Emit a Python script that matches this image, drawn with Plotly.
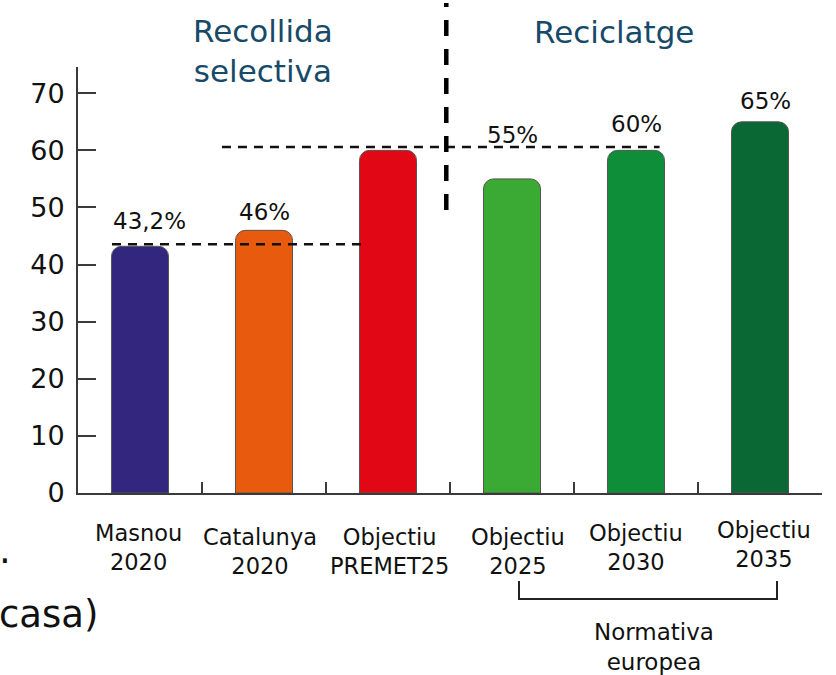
import plotly.graph_objects as go

# ---- data ----
categories = ["Masnou 2020", "Catalunya 2020", "Objectiu PREMET25",
              "Objectiu 2025", "Objectiu 2030", "Objectiu 2035"]
cat_labels = ["Masnou<br>2020", "Catalunya<br>2020", "Objectiu<br>PREMET25",
              "Objectiu<br>2025", "Objectiu<br>2030", "Objectiu<br>2035"]
values = [43.2, 46, 60, 55, 60, 65]
value_labels = ["43,2%", "46%", "", "55%", "60%", "65%"]
bar_colors = ["#32267e", "#e85a0e", "#e20714", "#3aaa35", "#0e8e38", "#0a6834"]
y_ticks = [0, 10, 20, 30, 40, 50, 60, 70]
ref_line_masnou = 43.55
ref_line_premet = 60.6
section_titles = ["Recollida<br>selectiva", "Reciclatge"]
bracket_title = "Normativa<br>europea"

W, H = 836, 675
L, R, T, B = 78, 14, 67, 182
PW, PH = W - L - R, H - T - B


def px(x):
    return (x - L) / PW


def py(y):
    return (H - B - y) / PH


FONT = "DejaVu Sans, Verdana, sans-serif"
AX = "#3a3a3a"

fig = go.Figure()
fig.add_trace(go.Bar(
    x=categories, y=values, width=0.46,
    marker=dict(color=bar_colors, line=dict(color="#555555", width=1),
                cornerradius=10),
    hoverinfo="skip",
))

ann = []
# value labels above bars
lab_yshift = [25, 18, 0, 44, 26, 21]
lab_xshift = [9, 0, 0, 0, 0, 5]
for c, v, t, ys, xs in zip(categories, values, value_labels, lab_yshift, lab_xshift):
    if t:
        ann.append(dict(x=c, y=v, xref="x", yref="y", text=t, showarrow=False,
                        yshift=ys, xshift=xs, yanchor="middle",
                        font=dict(size=23, color="#111111", family=FONT)))

# category labels
cat_centers_y = [547, 551, 551, 551, 547, 544]
cat_xshift = [-1.5, -4, 1, 5.5, 0, 4]
for c, t, yc, xs in zip(categories, cat_labels, cat_centers_y, cat_xshift):
    ann.append(dict(x=c, y=py(yc), xref="x", yref="paper", text=t, showarrow=False,
                    xshift=xs, yanchor="middle", xanchor="center",
                    font=dict(size=22.5, color="#111111", family=FONT)))

# section titles
ann.append(dict(x=px(263), y=py(51), xref="paper", yref="paper", text=section_titles[0],
                showarrow=False, yanchor="middle", xanchor="center",
                font=dict(size=31, color="#174a69", family=FONT)))
ann.append(dict(x=px(614), y=py(32), xref="paper", yref="paper", text=section_titles[1],
                showarrow=False, yanchor="middle", xanchor="center",
                font=dict(size=31, color="#174a69", family=FONT)))

# bracket label
ann.append(dict(x=px(654), y=py(647), xref="paper", yref="paper", text=bracket_title,
                showarrow=False, yanchor="middle", xanchor="center",
                font=dict(size=23, color="#111111", family=FONT)))

# text at left edge
ann.append(dict(x=px(100), y=py(614), xref="paper", yref="paper", text="casa)",
                showarrow=False, yanchor="middle", xanchor="right",
                font=dict(size=37, color="#111111", family=FONT)))
ann.append(dict(x=px(-3), y=py(550), xref="paper", yref="paper", text=".",
                showarrow=False, yanchor="middle", xanchor="left",
                font=dict(size=37, color="#111111", family=FONT)))

shapes = [
    # horizontal reference dashed lines
    dict(type="line", xref="x", yref="y", x0=-0.226, x1=1.79,
         y0=ref_line_masnou, y1=ref_line_masnou,
         line=dict(color="#111111", width=2.5, dash="9px,7px")),
    dict(type="line", xref="x", yref="y", x0=0.661, x1=4.19,
         y0=ref_line_premet, y1=ref_line_premet,
         line=dict(color="#111111", width=2.5, dash="9px,7px")),
    # vertical separator
    dict(type="line", xref="x", yref="paper", x0=2.47, x1=2.47,
         y0=py(210), y1=py(3),
         line=dict(color="#000000", width=4.5, dash="16px,13px")),
    # bracket
    dict(type="path", xref="paper", yref="paper",
         path=f"M {px(519)},{py(581)} L {px(519)},{py(599)} L {px(777)},{py(599)} L {px(777)},{py(581)}",
         line=dict(color="#222222", width=2)),
]

fig.update_layout(
    width=W, height=H,
    margin=dict(l=L, r=R, t=T, b=B, pad=0),
    paper_bgcolor="white", plot_bgcolor="white",
    showlegend=False,
    annotations=ann, shapes=shapes,
    font=dict(family=FONT, color="#111111"),
    xaxis=dict(range=[-0.5, 5.5], showticklabels=False, showline=True,
               linecolor=AX, linewidth=2, ticks="inside", ticklen=11,
               tickwidth=2, tickcolor=AX, tickson="boundaries",
               showgrid=False, zeroline=False, fixedrange=True),
    yaxis=dict(range=[0, 74.6], tickvals=y_ticks, showline=True,
               linecolor=AX, linewidth=2, ticks="inside", ticklen=18,
               tickwidth=2, tickcolor=AX, showgrid=False, zeroline=False,
               ticklabelstandoff=6,
               tickfont=dict(size=27, color="#111111", family=FONT),
               fixedrange=True),
)

fig.write_html("out.html", config={"displayModeBar": False},
               post_script="document.body.style.margin='0';document.body.style.padding='0';")
